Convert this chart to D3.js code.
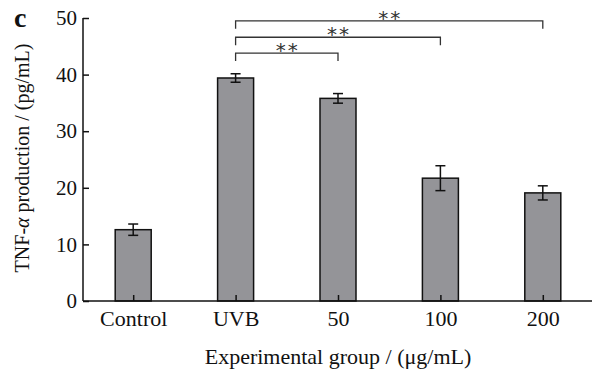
<!DOCTYPE html>
<html>
<head>
<meta charset="utf-8">
<script src="https://cdn.jsdelivr.net/npm/d3@7"></script>
<style>
  body { margin: 0; background: #fff; }
  text { font-family: "Liberation Serif", "Times New Roman", serif; fill: #111; }
</style>
</head>
<body>
<div id="chart"></div>
<script>
const groups = ["Control", "UVB", "50", "100", "200"];
const means = [12.6, 39.4, 35.8, 21.7, 19.1];
const errors = [1.0, 0.75, 0.85, 2.2, 1.25];
const yTicks = [0, 10, 20, 30, 40, 50];
// significance brackets: [from, to, level]
const brackets = [
    ["UVB", "50", 43.8],
    ["UVB", "100", 46.6],
    ["UVB", "200", 49.5]
];

const W = 592, H = 370;
const margin = { top: 18, right: 0, bottom: 69, left: 83 };
const width = W - margin.left - margin.right;
const height = H - margin.top - margin.bottom;

const svg = d3.select("#chart").append("svg")
    .attr("width", W)
    .attr("height", H);

const g = svg.append("g")
    .attr("transform", `translate(${margin.left},${margin.top})`);

const x = d3.scalePoint()
    .domain(groups)
    .range([-1, 511])
    .padding(0.5);

const y = d3.scaleLinear()
    .domain([0, 50])
    .range([height, 0]);

const barW = 36;

//bars
g.selectAll("rect.bar")
    .data(groups)
    .join("rect")
    .attr("class", "bar")
    .attr("x", d => x(d) - barW / 2)
    .attr("y", (d, i) => y(means[i]))
    .attr("width", barW)
    .attr("height", (d, i) => height - y(means[i]))
    .attr("fill", "#949498")
    .attr("stroke", "#111")
    .attr("stroke-width", 1.5);

//error bars
const eb = g.append("g").attr("stroke", "#111").attr("stroke-width", 1.5);
groups.forEach((d, i) => {
    const cx = x(d);
    const lo = y(means[i] - errors[i]), hi = y(means[i] + errors[i]);
    eb.append("line").attr("x1", cx).attr("x2", cx).attr("y1", lo).attr("y2", hi);
    eb.append("line").attr("x1", cx - 5).attr("x2", cx + 5).attr("y1", lo).attr("y2", lo);
    eb.append("line").attr("x1", cx - 5).attr("x2", cx + 5).attr("y1", hi).attr("y2", hi);
});

//y axis, ticks pointing inward
const yAxis = g.append("g")
    .call(d3.axisRight(y).tickValues(yTicks).tickSize(6).tickFormat(d3.format("d")));
yAxis.select(".domain").attr("d", `M0,0V${height}`).attr("stroke", "#111").attr("stroke-width", 1.5);
yAxis.selectAll(".tick line").attr("stroke", "#111").attr("stroke-width", 1.5);
yAxis.selectAll(".tick text")
    .attr("x", -6)
    .attr("text-anchor", "end")
    .style("font-size", "21px")
    .style("font-family", "Liberation Serif, serif");

//x axis
const xAxis = g.append("g")
    .attr("transform", `translate(0,${height})`)
    .call(d3.axisTop(x).tickSize(6));
xAxis.select(".domain").attr("d", `M0,0H${width}`).attr("stroke", "#111").attr("stroke-width", 1.5);
xAxis.selectAll(".tick line").attr("stroke", "#111").attr("stroke-width", 1.5);
xAxis.selectAll(".tick text")
    .attr("y", 25)
    .attr("dy", 0)
    .attr("text-anchor", "middle")
    .style("font-size", "22px")
    .style("font-family", "Liberation Serif, serif");

//brackets
const bg = g.append("g");
brackets.forEach(([a, b, lvl]) => {
    const x1 = x(a), x2 = x(b), yy = y(lvl);
    bg.append("path")
        .attr("d", `M${x1},${yy + 8}V${yy}H${x2}V${yy + 8}`)
        .attr("fill", "none")
        .attr("stroke", "#333")
        .attr("stroke-width", 1.3);
    bg.append("text")
        .attr("x", (x1 + x2) / 2 + 1)
        .attr("y", yy + 4)
        .attr("text-anchor", "middle")
        .style("font-size", "20px")
        .style("letter-spacing", "2px")
        .style("font-family", "DejaVu Sans, sans-serif")
        .style("fill", "#333")
        .text("**");
});

//axis titles
svg.append("text")
    .attr("x", 338)
    .attr("y", 364)
    .attr("text-anchor", "middle")
    .style("font-size", "22px")
    .text("Experimental group / (\u03bcg/mL)");

svg.append("text")
    .attr("transform", `translate(29,158) rotate(-90)`)
    .attr("text-anchor", "middle")
    .style("font-size", "20px")
    .html('TNF-<tspan font-style="italic">\u03b1</tspan> production / (pg/mL)');

//panel letter
svg.append("text")
    .attr("x", 14)
    .attr("y", 27)
    .style("font-size", "28px")
    .style("font-weight", "bold")
    .text("c");
</script>
</body>
</html>
